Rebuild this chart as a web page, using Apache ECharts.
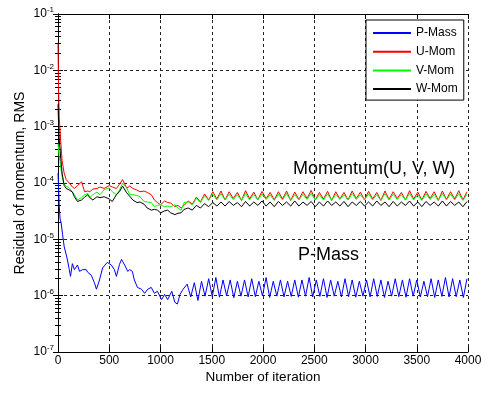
<!DOCTYPE html>
<html>
<head>
<meta charset="utf-8">
<script src="https://cdn.jsdelivr.net/npm/echarts@6/dist/echarts.min.js"></script>
<style>
  html, body { margin: 0; padding: 0; background: #fff; }
  #chart { width: 490px; height: 396px; }
</style>
</head>
<body>
<div id="chart"></div>
<script>
// Iteraciones para P-Mass
const pMassIter = [
  0, 12, 20, 30, 45, 60, 90, 110, 122, 140,
  160, 190, 210, 240, 275, 290, 325, 355, 375, 405,
  435, 480, 520, 550, 570, 600, 620, 650, 680, 700,
  725, 745, 775, 815, 845, 875, 910, 940, 970, 1010,
  1040, 1070, 1110, 1140, 1165, 1190, 1220,
  1260, 1295, 1330, 1365, 1400, 1435, 1470, 1505, 1540, 1575,
  1610, 1645, 1680, 1715, 1750, 1785, 1820, 1855, 1890, 1925,
  1960, 1995, 2030, 2065, 2100, 2135, 2170, 2205, 2240, 2275,
  2310, 2345, 2380, 2415, 2450, 2485, 2520, 2555, 2590, 2625,
  2660, 2695, 2730, 2765, 2800, 2835, 2870, 2905, 2940, 2975,
  3010, 3045, 3080, 3115, 3150, 3185, 3220, 3255, 3290, 3325,
  3360, 3395, 3430, 3465, 3500, 3535, 3570, 3605, 3640, 3675,
  3710, 3745, 3780, 3815, 3850, 3885, 3920, 3955, 3990
];
const pMass = [
  1.5e-4, 4.0e-5, 2.3e-5, 2.0e-5, 1.2e-5, 7.5e-6, 4.5e-6, 2.9e-6, 2.2e-6, 3.7e-6,
  2.9e-6, 3.5e-6, 2.7e-6, 2.9e-6, 2.9e-6, 2.6e-6, 2.3e-6, 1.7e-6, 1.3e-6, 1.9e-6,
  3.1e-6, 3.9e-6, 3.5e-6, 2.9e-6, 2.2e-6, 3.6e-6, 4.4e-6, 3.5e-6, 2.7e-6, 2.9e-6,
  2.7e-6, 1.9e-6, 1.4e-6, 1.3e-6, 1.1e-6, 1.3e-6, 1.4e-6, 1.1e-6, 1.2e-6, 8.5e-7,
  1.05e-6, 8.5e-7, 1.2e-6, 7.6e-7, 7.1e-7, 1.05e-6, 1.3e-6,
  1.6e-6, 9.5e-7, 1.7e-6, 8.2e-7, 1.8e-6, 9.8e-7, 2.0e-6, 9.6e-7, 2.1e-6, 9.4e-7,
  1.9e-6, 1.0e-6, 1.9e-6, 9.2e-7, 1.8e-6, 9.8e-7, 1.9e-6, 9.5e-7, 2.0e-6, 9.6e-7,
  1.8e-6, 9.9e-7, 2.1e-6, 9.3e-7, 1.8e-6, 9.8e-7, 1.9e-6, 9.5e-7, 1.8e-6, 9.7e-7,
  1.9e-6, 9.4e-7, 1.9e-6, 9.8e-7, 2.1e-6, 9.5e-7, 1.9e-6, 9.7e-7, 2.0e-6, 9.3e-7,
  1.9e-6, 9.8e-7, 1.8e-6, 9.5e-7, 2.0e-6, 9.6e-7, 1.9e-6, 9.4e-7, 1.8e-6, 9.8e-7,
  1.9e-6, 9.5e-7, 2.0e-6, 9.7e-7, 1.9e-6, 9.3e-7, 1.8e-6, 9.8e-7, 2.0e-6, 9.6e-7,
  1.9e-6, 9.4e-7, 2.0e-6, 9.8e-7, 1.9e-6, 9.5e-7, 1.8e-6, 9.6e-7, 2.0e-6, 9.3e-7,
  1.9e-6, 9.7e-7, 2.1e-6, 9.5e-7, 2.0e-6, 9.6e-7, 1.9e-6, 9.3e-7, 2.0e-6
];

// Iteraciones para las tres componentes de momento
const momIter = [
  0, 5, 12, 25, 40, 60, 80, 110, 140, 160,
  190, 230, 260, 290, 310, 340, 380, 410, 450, 500,
  530, 570, 600, 630, 670, 700, 730, 770, 800, 840,
  870, 910, 940, 970, 1000, 1040, 1070, 1100, 1140, 1170,
  1200, 1230,
  1270, 1310, 1350, 1390, 1430, 1470, 1510, 1550, 1590, 1630,
  1670, 1710, 1750, 1790, 1830, 1870, 1910, 1950, 1990, 2030,
  2070, 2110, 2150, 2190, 2230, 2270, 2310, 2350, 2390, 2430,
  2470, 2510, 2550, 2590, 2630, 2670, 2710, 2750, 2790, 2830,
  2870, 2910, 2950, 2990, 3030, 3070, 3110, 3150, 3190, 3230,
  3270, 3310, 3350, 3390, 3430, 3470, 3510, 3550, 3590, 3630,
  3670, 3710, 3750, 3790, 3830, 3870, 3910, 3950, 3990
];
const uMom = [
  3.0e-2, 5.0e-3, 1.5e-3, 6.0e-4, 2.5e-4, 1.5e-4, 1.15e-4, 1.0e-4, 8.5e-5, 8.0e-5,
  9.0e-5, 1.05e-4, 7.0e-5, 7.2e-5, 7.0e-5, 7.8e-5, 8.0e-5, 8.5e-5, 8.0e-5, 9.0e-5,
  8.5e-5, 8.0e-5, 9.5e-5, 1.15e-4, 8.1e-5, 8.8e-5, 8.0e-5, 7.5e-5, 7.0e-5, 7.2e-5,
  6.8e-5, 6.2e-5, 5.0e-5, 4.5e-5, 4.1e-5, 4.8e-5, 4.5e-5, 4.4e-5, 3.8e-5, 4.0e-5,
  3.6e-5, 4.0e-5,
  4.8e-5, 4.2e-5, 5.6e-5, 4.6e-5, 6.4e-5, 5.0e-5, 7.0e-5, 5.2e-5, 7.2e-5, 5.0e-5,
  7.0e-5, 5.3e-5, 6.8e-5, 4.9e-5, 7.3e-5, 5.2e-5, 6.9e-5, 5.0e-5, 7.1e-5, 5.3e-5,
  6.8e-5, 5.0e-5, 7.0e-5, 5.2e-5, 7.2e-5, 4.9e-5, 6.9e-5, 5.1e-5, 7.0e-5, 5.3e-5,
  7.4e-5, 5.0e-5, 6.8e-5, 5.2e-5, 7.1e-5, 4.9e-5, 7.0e-5, 5.2e-5, 6.8e-5, 5.0e-5,
  7.2e-5, 5.3e-5, 6.9e-5, 5.0e-5, 7.1e-5, 5.2e-5, 6.8e-5, 4.9e-5, 7.2e-5, 5.1e-5,
  7.0e-5, 5.3e-5, 6.8e-5, 5.0e-5, 7.3e-5, 5.2e-5, 6.9e-5, 5.0e-5, 7.1e-5, 5.3e-5,
  7.0e-5, 4.9e-5, 7.2e-5, 5.1e-5, 7.0e-5, 5.2e-5, 7.3e-5, 5.0e-5, 7.0e-5
];
const vMom = [
  5.0e-4, 4.0e-4, 3.0e-4, 2.0e-4, 1.3e-4, 9.5e-5, 8.8e-5, 8.2e-5, 7.0e-5, 6.2e-5,
  5.0e-5, 5.5e-5, 6.2e-5, 6.5e-5, 5.5e-5, 6.2e-5, 6.9e-5, 6.2e-5, 7.6e-5, 8.2e-5,
  7.0e-5, 6.2e-5, 7.5e-5, 1.0e-4, 8.2e-5, 6.2e-5, 6.2e-5, 6.0e-5, 5.7e-5, 4.7e-5,
  4.6e-5, 4.5e-5, 3.8e-5, 4.0e-5, 4.1e-5, 3.8e-5, 3.9e-5, 3.8e-5, 4.1e-5, 3.6e-5,
  3.3e-5, 4.5e-5,
  4.6e-5, 4.1e-5, 5.3e-5, 4.5e-5, 6.0e-5, 4.9e-5, 6.4e-5, 5.0e-5, 6.5e-5, 5.0e-5,
  6.3e-5, 5.1e-5, 6.2e-5, 4.9e-5, 6.5e-5, 5.0e-5, 6.3e-5, 5.0e-5, 6.4e-5, 5.1e-5,
  6.2e-5, 4.9e-5, 6.3e-5, 5.0e-5, 6.5e-5, 4.9e-5, 6.2e-5, 5.0e-5, 6.3e-5, 5.1e-5,
  6.6e-5, 5.0e-5, 6.2e-5, 5.0e-5, 6.4e-5, 4.9e-5, 6.3e-5, 5.1e-5, 6.2e-5, 5.0e-5,
  6.5e-5, 5.1e-5, 6.2e-5, 5.0e-5, 6.4e-5, 5.0e-5, 6.2e-5, 4.9e-5, 6.5e-5, 5.0e-5,
  6.3e-5, 5.1e-5, 6.2e-5, 5.0e-5, 6.5e-5, 5.0e-5, 6.2e-5, 4.9e-5, 6.4e-5, 5.1e-5,
  6.3e-5, 4.9e-5, 6.5e-5, 5.0e-5, 6.3e-5, 5.0e-5, 6.5e-5, 4.9e-5, 6.3e-5
];
const wMom = [
  2.5e-3, 1.2e-3, 6.0e-4, 3.0e-4, 1.5e-4, 9.0e-5, 8.0e-5, 7.5e-5, 6.9e-5, 5.7e-5,
  4.7e-5, 5.0e-5, 5.6e-5, 6.2e-5, 5.5e-5, 5.0e-5, 5.7e-5, 5.5e-5, 5.7e-5, 5.2e-5,
  4.7e-5, 6.2e-5, 7.0e-5, 8.8e-5, 6.7e-5, 5.8e-5, 5.0e-5, 4.5e-5, 4.6e-5, 4.2e-5,
  3.6e-5, 3.3e-5, 3.4e-5, 3.3e-5, 2.95e-5, 3.2e-5, 3.3e-5, 2.95e-5, 2.75e-5, 2.9e-5,
  2.95e-5, 3.4e-5,
  3.6e-5, 3.3e-5, 4.0e-5, 3.6e-5, 4.3e-5, 3.8e-5, 4.5e-5, 3.9e-5, 4.6e-5, 3.9e-5,
  4.7e-5, 4.0e-5, 4.5e-5, 3.8e-5, 4.7e-5, 3.9e-5, 4.6e-5, 4.0e-5, 4.8e-5, 3.9e-5,
  4.6e-5, 3.8e-5, 4.7e-5, 4.0e-5, 4.6e-5, 3.9e-5, 4.8e-5, 3.9e-5, 4.6e-5, 4.0e-5,
  4.7e-5, 3.8e-5, 4.6e-5, 3.9e-5, 4.8e-5, 4.0e-5, 4.6e-5, 3.9e-5, 4.7e-5, 3.8e-5,
  4.6e-5, 4.0e-5, 4.7e-5, 3.9e-5, 4.6e-5, 3.9e-5, 4.8e-5, 4.0e-5, 4.6e-5, 3.8e-5,
  4.7e-5, 3.9e-5, 4.6e-5, 4.0e-5, 4.8e-5, 3.9e-5, 4.6e-5, 3.8e-5, 4.7e-5, 4.0e-5,
  4.6e-5, 3.9e-5, 4.8e-5, 3.9e-5, 4.7e-5, 4.0e-5, 4.6e-5, 3.8e-5, 4.7e-5
];

const seriesNames = ['P-Mass', 'U-Mom', 'V-Mom', 'W-Mom'];
const seriesColors = ['#0000ff', '#ff0000', '#00ff00', '#000000'];

function pares(xs, ys) {
  return xs.map((x, i) => [x, ys[i]]);
}

const fuente = 'Liberation Sans, Arial, sans-serif';

// Eje logarítmico con etiquetas 10^n
const ejeY = {
  type: 'log',
  logBase: 10,
  min: 1e-7,
  max: 1e-1,
  interval: 1,
  axisLine: { show: true, lineStyle: { color: '#000', width: 1 } },
  axisTick: { show: true, inside: true, length: 5, lineStyle: { color: '#000' } },
  minorTick: { show: true, splitNumber: 9, length: 3, lineStyle: { color: '#000' } },
  splitLine: { show: true, lineStyle: { color: '#222', type: [3, 3], width: 1 } },
  axisLabel: {
    margin: 4,
    formatter: v => '{b|10}{s|' + Math.round(Math.log10(v)) + '}',
    rich: {
      b: { fontFamily: fuente, fontSize: 12, color: '#000' },
      s: { fontFamily: fuente, fontSize: 8, color: '#000', verticalAlign: 'top', padding: [0, 0, 8, 0] }
    }
  },
  name: 'Residual of momentum, RMS',
  nameLocation: 'middle',
  nameMoveOverlap: false,
  nameGap: 31,
  nameTextStyle: { fontFamily: fuente, fontSize: 14, color: '#000' }
};

const option = {
  animation: false,
  backgroundColor: '#fff',
  grid: { left: 58, right: 22, top: 14, bottom: 44, containLabel: false },
  legend: {
    data: seriesNames,
    orient: 'vertical',
    left: 366,
    top: 20,
    padding: [7, 6, 5, 7],
    itemGap: 6.7,
    itemWidth: 38,
    itemHeight: 2,
    icon: 'rect',
    backgroundColor: '#fff',
    borderColor: '#000',
    borderWidth: 1,
    borderRadius: 0,
    textStyle: { fontFamily: fuente, fontSize: 12, color: '#000', padding: [0, 0, 0, 0] }
  },
  xAxis: [
    {
      type: 'value',
      min: 0,
      max: 4000,
      interval: 500,
      axisLine: { show: true, onZero: false, lineStyle: { color: '#000' } },
      axisTick: { show: true, inside: true, length: 5, lineStyle: { color: '#000' } },
      splitLine: { show: true, lineStyle: { color: '#222', type: [3, 3], width: 1 } },
      axisLabel: { fontFamily: fuente, fontSize: 12, color: '#000', margin: 3, formatter: v => String(v) },
      name: 'Number of iteration',
      nameLocation: 'middle',
      nameMoveOverlap: false,
      nameGap: 18,
      nameTextStyle: { fontFamily: fuente, fontSize: 13.5, color: '#000' }
    },
    {
      type: 'value',
      position: 'top',
      min: 0,
      max: 4000,
      interval: 500,
      axisLine: { show: true, onZero: false, lineStyle: { color: '#000' } },
      axisTick: { show: true, inside: true, length: 5, lineStyle: { color: '#000' } },
      splitLine: { show: false },
      axisLabel: { show: false }
    }
  ],
  yAxis: [
    ejeY,
    Object.assign({}, ejeY, {
      position: 'right',
      splitLine: { show: false },
      axisLabel: { show: false },
      name: ''
    })
  ],
  graphic: [
    {
      type: 'text',
      left: 293,
      top: 160,
      style: { text: 'Momentum(U, V, W)', fontFamily: fuente, fontSize: 18, fill: '#000' }
    },
    {
      type: 'text',
      left: 298,
      top: 246,
      style: { text: 'P-Mass', fontFamily: fuente, fontSize: 18, fill: '#000' }
    }
  ],
  series: [
    pares(pMassIter, pMass),
    pares(momIter, uMom),
    pares(momIter, vMom),
    pares(momIter, wMom)
  ].map((data, i) => ({
    name: seriesNames[i],
    type: 'line',
    data: data,
    showSymbol: false,
    symbol: 'none',
    lineStyle: { color: seriesColors[i], width: 1 },
    itemStyle: { color: seriesColors[i] }
  }))
};

const chart = echarts.init(document.getElementById('chart'));
chart.setOption(option);
</script>
</body>
</html>
